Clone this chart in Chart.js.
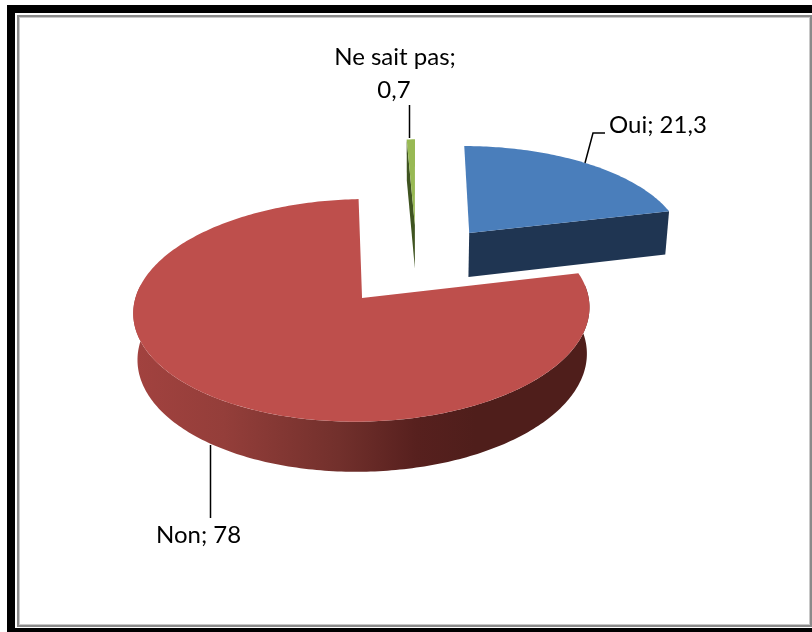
<!DOCTYPE html>
<html lang="fr">
<head>
    <meta charset="UTF-8">
    <title>Ne sait pas / Oui / Non</title>
    <script src="https://cdn.jsdelivr.net/npm/chart.js"></script>
    <style>
        html, body { margin: 0; padding: 0; background: #ffffff; overflow: hidden; }
        #wrap { width: 812px; height: 632px; }
    </style>
</head>
<body>
    <div id="wrap"><canvas id="pie3d"></canvas></div>

    <script>
        const categories = ['Oui', 'Non', 'Ne sait pas'];
        const values = [21.3, 78, 0.7];
        const topColors = ['#4a7ebb', '#be4f4c', '#98b954'];
        const sideColors = ['#1f3552', '#4f1e1b', '#3f5420'];

        // camera used to squash the flat pie into the 3D view
        const view = { cx: 416.7, cy: 264, sx: 218.8, sy: 102.5, k: 0.108, explode: 0.4, lower: 0.985, depth: 45 };

        function project(X, Y, bottom) {
            const d = 1 - view.k * Y;
            const s = bottom ? view.lower : 1;
            const drop = bottom ? view.depth : 0;
            return [view.cx + view.sx * X * s / d, view.cy + (view.sy * Y * s + drop) / d];
        }

        // point on a slice, a is the canvas angle, t = 0 apex, t = 1 rim
        function slicePoint(arc, a, t, bottom) {
            const mid = (arc.startAngle + arc.endAngle) / 2;
            const X = view.explode * Math.cos(mid) + t * Math.cos(a);
            const Y = view.explode * Math.sin(mid) + t * Math.sin(a);
            return project(X, Y, bottom);
        }

        function rimPoints(arc, from, to, bottom) {
            const pts = [];
            const n = Math.max(2, Math.ceil((to - from) * 60));
            for (let i = 0; i <= n; i++) {
                pts.push(slicePoint(arc, from + (to - from) * i / n, 1, bottom));
            }
            return pts;
        }

        function fillPath(ctx, pts, style) {
            ctx.beginPath();
            pts.forEach((p, i) => i ? ctx.lineTo(p[0], p[1]) : ctx.moveTo(p[0], p[1]));
            ctx.closePath();
            ctx.fillStyle = style;
            ctx.fill();
        }

        function drawCutFace(ctx, arc, a, style) {
            fillPath(ctx, [
                slicePoint(arc, a, 0, false),
                slicePoint(arc, a, 1, false),
                slicePoint(arc, a, 1, true),
                slicePoint(arc, a, 0, true)
            ], style);
        }

        function drawSlice(ctx, arc, i) {
            const a0 = arc.startAngle;
            const a1 = arc.endAngle;

            // only the cut faces turned to the viewer
            if (Math.sin(a0 - Math.PI / 2) > 0.001) drawCutFace(ctx, arc, a0, sideColors[i]);
            if (Math.sin(a1 + Math.PI / 2) > 0.001) drawCutFace(ctx, arc, a1, sideColors[i]);

            // outer wall, front half only, a bit wider for the silhouette
            const from = Math.max(a0, -0.12);
            const to = Math.min(a1, Math.PI + 0.12);
            if (to > from) {
                let wall = sideColors[i];
                if (categories[i] === 'Non') {
                    wall = ctx.createLinearGradient(133, 0, 590, 0);
                    wall.addColorStop(0, '#a2423f');
                    wall.addColorStop(0.2, '#943e3a');
                    wall.addColorStop(0.45, '#72302c');
                    wall.addColorStop(0.62, '#57201e');
                    wall.addColorStop(0.75, '#4f1e1b');
                    wall.addColorStop(1, '#4f1e1b');
                }
                fillPath(ctx, rimPoints(arc, from, to, false).concat(rimPoints(arc, from, to, true).reverse()), wall);
            }

            fillPath(ctx, [slicePoint(arc, a0, 0, false)].concat(rimPoints(arc, a0, a1, false)), topColors[i]);
        }

        const pie3d = {
            id: 'pie3d',
            beforeDatasetsDraw(chart) {
                const ctx = chart.ctx;
                const arcs = chart.getDatasetMeta(0).data;
                ctx.save();
                // back to front
                [2, 0, 1].forEach(i => drawSlice(ctx, arcs[i], i));
                ctx.restore();
                return false;
            }
        };

        const labelText = i => categories[i] + '; ' + String(values[i]).replace('.', ',');

        const labels3d = {
            id: 'labels3d',
            afterDraw(chart) {
                const ctx = chart.ctx;
                ctx.save();
                ctx.fillStyle = '#000000';
                ctx.font = '24px Lato';
                ctx.textBaseline = 'alphabetic';
                ctx.textAlign = 'left';
                ctx.fillText(labelText(0), 609, 133);
                ctx.fillText(labelText(1), 156, 543);
                ctx.textAlign = 'center';
                ctx.fillText(categories[2] + ';', 395, 65);
                ctx.fillText(String(values[2]).replace('.', ','), 394, 98);

                ctx.strokeStyle = '#000000';
                ctx.lineWidth = 1.5;
                ctx.beginPath();
                ctx.moveTo(409.5, 105);
                ctx.lineTo(409.5, 138);
                ctx.moveTo(605, 133);
                ctx.lineTo(593, 133);
                ctx.lineTo(585, 163);
                ctx.moveTo(210.5, 445);
                ctx.lineTo(210.5, 518);
                ctx.stroke();
                ctx.restore();
            }
        };

        const frame = {
            id: 'frame',
            beforeDraw(chart) {
                const ctx = chart.ctx;
                ctx.save();
                ctx.fillStyle = '#ffffff';
                ctx.fillRect(0, 0, 812, 632);
                ctx.fillStyle = '#000000';
                ctx.fillRect(7, 5, 805, 627);
                ctx.fillStyle = '#ffffff';
                ctx.fillRect(15, 13, 797, 615);
                ctx.strokeStyle = '#8a8a8a';
                ctx.lineWidth = 2;
                ctx.strokeRect(18, 16, 793, 610);
                ctx.strokeStyle = '#c8c8c8';
                ctx.lineWidth = 1;
                ctx.strokeRect(19.5, 17.5, 790, 607);
                ctx.restore();
            }
        };

        new Chart(document.getElementById('pie3d'), {
            type: 'pie',
            data: {
                labels: categories,
                datasets: [{ data: values, backgroundColor: topColors, borderWidth: 0 }]
            },
            options: {
                responsive: true,
                maintainAspectRatio: false,
                animation: false,
                events: [],
                plugins: { legend: { display: false }, tooltip: { enabled: false } }
            },
            plugins: [frame, pie3d, labels3d]
        });
    </script>
</body>
</html>
